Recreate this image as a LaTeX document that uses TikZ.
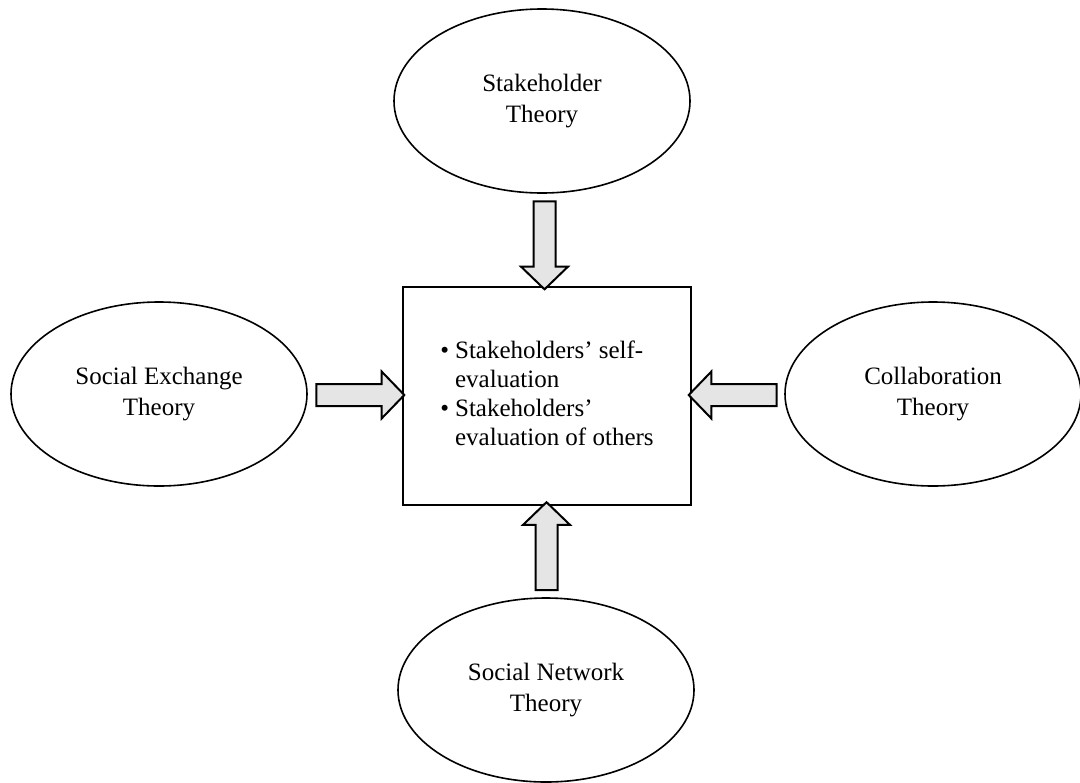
\documentclass[tikz,border=0pt]{standalone}
\usepackage{fontspec}
\setmainfont{Liberation Serif}
\usetikzlibrary{shapes,arrows,positioning,calc}

\begin{document}
\begin{tikzpicture}[
    x=0.5pt, y=-0.5pt,
    theory/.style={ellipse, draw=black, line width=0.8pt, minimum width=148pt, minimum height=92pt, align=center, font=\fontsize{12.5}{15.5}\selectfont},
    evalbox/.style={rectangle, draw=black, line width=0.8pt, minimum width=144pt, minimum height=109pt, align=left, font=\fontsize{12.5}{14.5}\selectfont},
    blockarrow/.style={single arrow, draw=black, line width=1pt, fill=black!10, minimum height=44pt, inner xsep=0pt, inner ysep=5pt, single arrow head extend=6.25pt, single arrow tip angle=92}
]
\useasboundingbox (0,0) rectangle (1080,782);

% Central box
\node[evalbox] (evaluation) at (547,396) {%
    \begin{tabular}{@{}l@{\hspace{3pt}}l@{}}
    \textbullet & Stakeholders’ self-\\
     & evaluation\\
    \textbullet & Stakeholders’\\
     & evaluation of others
    \end{tabular}};

% Theories around the box
\node[theory] (stakeholder) at (542,101) {Stakeholder\\Theory};
\node[theory] (exchange) at (159,394) {Social Exchange\\Theory};
\node[theory] (collaboration) at (933,394) {Collaboration\\Theory};
\node[theory] (network) at (546,690) {Social Network\\Theory};

% Block arrows pointing into the box
\node[blockarrow, rotate=270] (arrow_top) at ($(stakeholder.south)!0.5!(evaluation.north)$) {};
\node[blockarrow] (arrow_left) at ($(exchange.east)!0.5!(evaluation.west)$) {};
\node[blockarrow, rotate=180] (arrow_right) at ($(collaboration.west)!0.5!(evaluation.east)$) {};
\node[blockarrow, rotate=90] (arrow_bottom) at ($(network.north)!0.5!(evaluation.south)$) {};

\end{tikzpicture}
\end{document}
